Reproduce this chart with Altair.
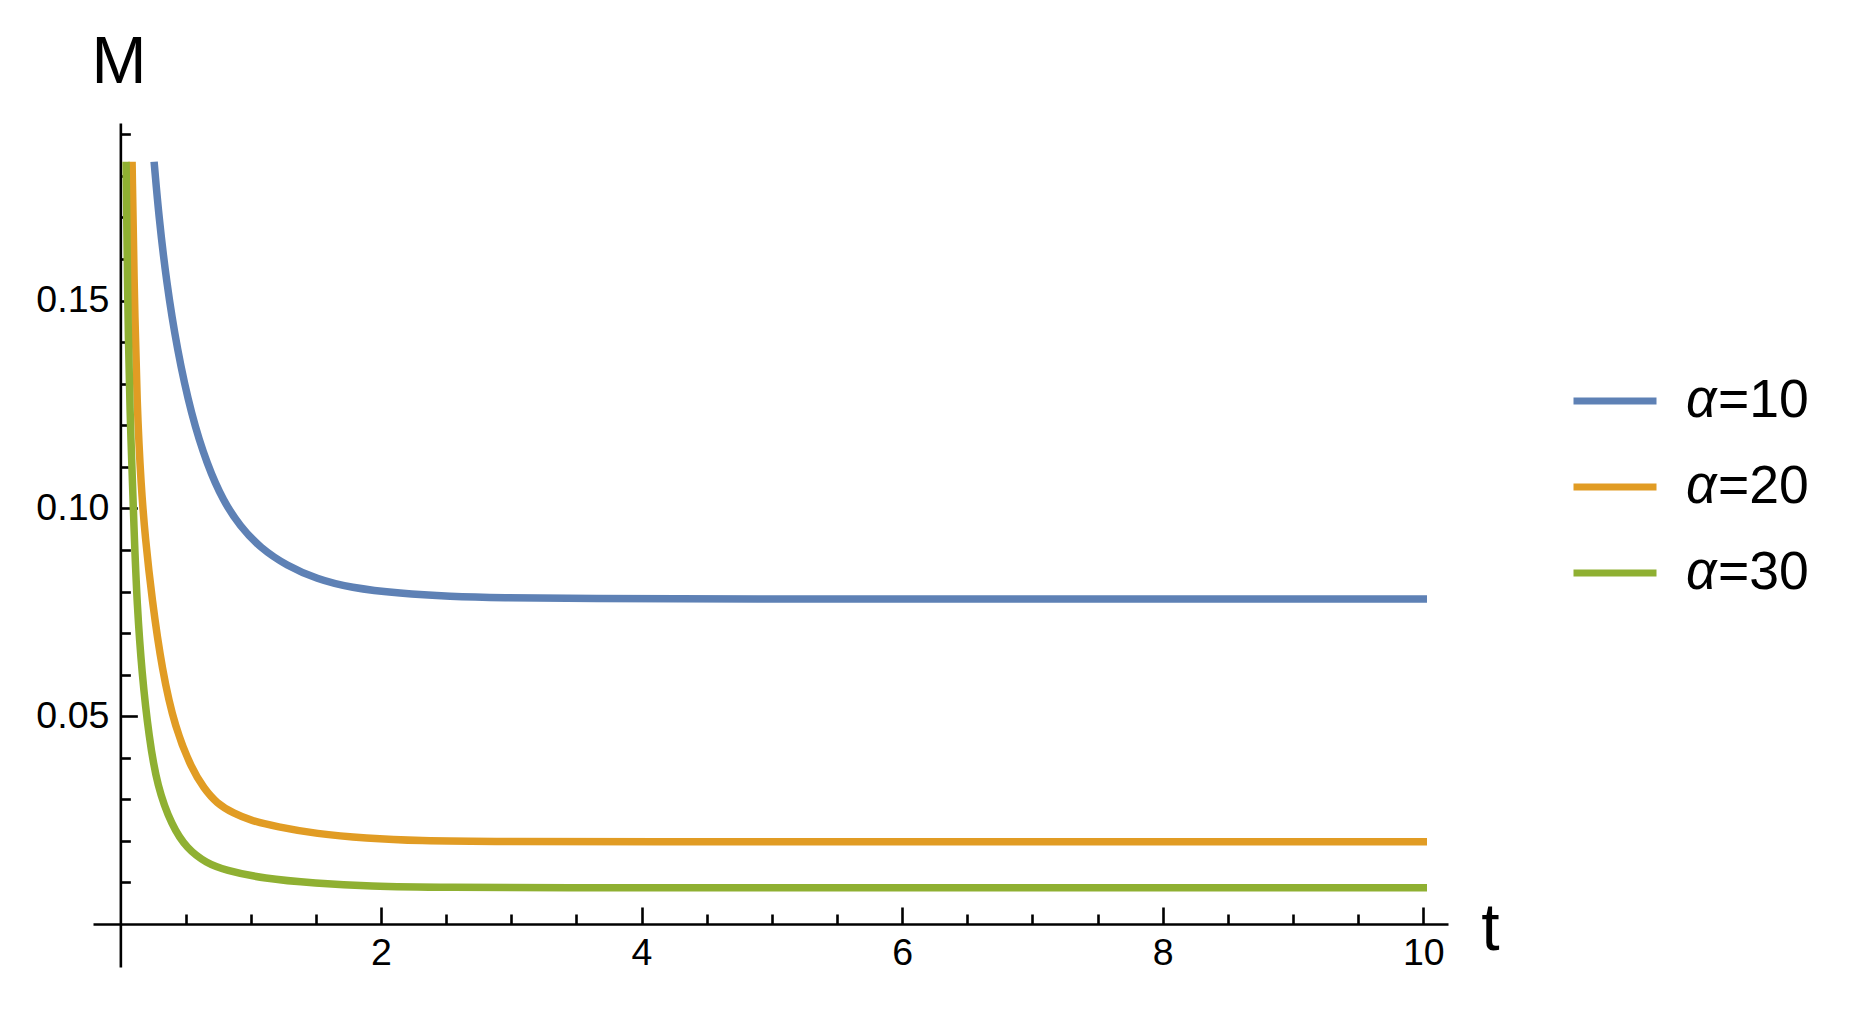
import altair as alt
import pandas as pd

# ---- data ----
series_labels = ["α=10", "α=20", "α=30"]
series_eq = ["=10", "=20", "=30"]
series_colors = ["#5E81B5", "#E19C24", "#8FB032"]

t_a10 = [0.2615, 0.295, 0.353, 0.435, 0.545, 0.668, 0.791, 0.919, 1.073, 1.277,
         1.508, 1.763, 2.147, 2.531, 2.915, 3.55, 4.83, 6.5, 8.5, 10.0]
M_a10 = [0.1825, 0.1704, 0.1546, 0.1383, 0.1224, 0.1103, 0.1017, 0.0957, 0.0905, 0.0862,
         0.0830, 0.0809, 0.0795, 0.0788, 0.0785, 0.0783, 0.0782, 0.0782, 0.0782, 0.0782]

t_a20 = [0.0905, 0.104, 0.128, 0.160, 0.190, 0.243, 0.320, 0.420, 0.550, 0.640, 0.740,
         0.870, 1.000, 1.200, 1.500, 1.890, 2.276, 2.915, 4.0, 6.0, 8.0, 10.0]
M_a20 = [0.1825, 0.1560, 0.1240, 0.1050, 0.0932, 0.0780, 0.0611, 0.0471, 0.0372, 0.0327, 0.0290,
         0.0266, 0.0249, 0.0234, 0.0217, 0.0206, 0.0200, 0.0198, 0.0198, 0.0198, 0.0198, 0.0198]

t_a30 = [0.0443, 0.055, 0.071, 0.107, 0.128, 0.165, 0.220, 0.284, 0.394, 0.510, 0.663,
         0.800, 1.100, 1.500, 1.890, 2.530, 3.300, 5.0, 7.5, 10.0]
M_a30 = [0.1825, 0.1520, 0.1250, 0.0930, 0.0770, 0.0603, 0.0448, 0.0330, 0.0237, 0.0181, 0.0146,
         0.0130, 0.0109, 0.0098, 0.0091, 0.0088, 0.0087, 0.0087, 0.0087, 0.0087]

x_minor_ticks = [0.5 * i for i in range(1, 21)]
x_major_ticks = [2, 4, 6, 8, 10]
y_minor_ticks = [round(0.01 * i, 2) for i in range(1, 20)]
y_major_ticks = [0.05, 0.10, 0.15]

# ---- table ----
rows = []
for lab, eq, ts, ms in zip(series_labels, series_eq, [t_a10, t_a20, t_a30], [M_a10, M_a20, M_a30]):
    for t, m in zip(ts, ms):
        rows.append({"t": t, "M": m, "alpha": lab, "eq": eq})
df = pd.DataFrame(rows)

# ---- geometry / style ----
W, H = 1355, 844
x_dom = [-0.21, 10.19]
y_dom = [-0.01035, 0.19273]
px_t = W / (x_dom[1] - x_dom[0])
yaxis_px = (0 - x_dom[0]) * px_t                       # y-axis line from plot left
xaxis_px = (y_dom[1] - 0) / (y_dom[1] - y_dom[0]) * H  # x-axis line from plot top
PAD_L, PAD_T = 85, 115
FONT = "Liberation Sans"

xscale = alt.Scale(domain=x_dom, nice=False, zero=False)
yscale = alt.Scale(domain=y_dom, nice=False, zero=False)

lines = alt.Chart(df).mark_line(strokeWidth=7.5, strokeCap="square", interpolate="basis").encode(
    x=alt.X("t:Q", scale=xscale, axis=alt.Axis(
        orient="top", offset=-xaxis_px, values=x_minor_ticks, labels=False, title=None,
        grid=False, domain=True, domainColor="black", domainWidth=2.6,
        ticks=True, tickColor="black", tickWidth=2.6,
        tickSize={"condition": {"test": "datum.value % 2 === 0", "value": 17}, "value": 10})),
    y=alt.Y("M:Q", scale=yscale, axis=alt.Axis(
        orient="right", offset=-(W - yaxis_px), values=y_minor_ticks, labels=False, title=None,
        grid=False, domain=True, domainColor="black", domainWidth=2.6,
        ticks=True, tickColor="black", tickWidth=2.6,
        tickSize={"condition": {"test": "round(datum.value * 100) % 5 === 0", "value": 17}, "value": 10})),
    color=alt.Color("alpha:N", scale=alt.Scale(domain=series_labels, range=series_colors),
                    legend=alt.Legend(orient="none", legendX=1477, legendY=233, title=None,
                                      symbolType="stroke", symbolSize=6889, symbolStrokeWidth=7,
                                      labelFont=FONT, labelFontSize=53.5, labelFontStyle="italic",
                                      labelColor="black", labelExpr="'α'", labelOffset=26,
                                      padding=0, rowPadding=14)),
    opacity=alt.Opacity("eq:N", scale=alt.Scale(domain=series_eq, range=[1, 1, 1]),
                        legend=alt.Legend(orient="none", legendX=1509, legendY=233, title=None,
                                          symbolType="stroke", symbolSize=6889, symbolStrokeWidth=7,
                                          symbolStrokeColor="transparent", symbolFillColor="transparent",
                                          labelFont=FONT, labelFontSize=53.5, labelFontStyle="normal",
                                          labelColor="black", labelOffset=26,
                                          padding=0, rowPadding=14)),
    detail="alpha:N",
)

labels_layer = alt.Chart(df).mark_point(opacity=0).encode(
    x=alt.X("t:Q", scale=xscale, axis=alt.Axis(
        orient="bottom", offset=-(H - xaxis_px), values=x_major_ticks, format="d",
        grid=False, domain=False, ticks=False, tickSize=0,
        labelFont=FONT, labelFontSize=37.5, labelColor="black", labelPadding=11,
        title="t", titleFont=FONT, titleFontSize=66, titleFontWeight="normal", titleColor="black",
        titleX=1490 - (8 + PAD_L), titleY=26, titleAlign="center", titleBaseline="alphabetic")),
    y=alt.Y("M:Q", scale=yscale, axis=alt.Axis(
        orient="left", offset=-yaxis_px, values=y_major_ticks, format=".2f",
        grid=False, domain=False, ticks=False, tickSize=0,
        labelFont=FONT, labelFontSize=37.5, labelColor="black", labelPadding=11.5,
        title="M", titleFont=FONT, titleFontSize=66, titleFontWeight="normal", titleColor="black",
        titleAngle=0, titleX=-2, titleY=82 - (8 + PAD_T), titleAlign="center",
        titleBaseline="alphabetic")),
)

chart = alt.layer(lines, labels_layer).resolve_axis(
    x="independent", y="independent"
).properties(
    width=W, height=H,
    autosize=alt.AutoSizeParams(type="none"),
    padding={"left": PAD_L, "top": PAD_T, "right": 390, "bottom": 30},
    background="white",
).configure_view(stroke=None)

chart.save("out.html", embed_options={"renderer": "svg", "actions": False})
